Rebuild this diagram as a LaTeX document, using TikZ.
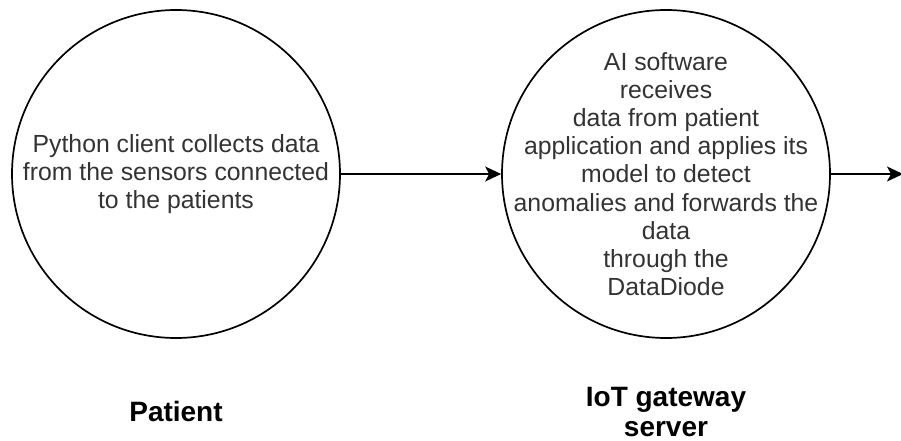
\documentclass[tikz,border=0pt]{standalone}
\usepackage{fontspec}
\setmainfont{Liberation Sans}
\usetikzlibrary{arrows.meta}
\begin{document}
\begin{tikzpicture}[x=1pt,y=1pt,
    ring/.style={draw,circle,line width=1.7pt,minimum size=328pt,inner sep=0pt},
    body/.style={align=center,text=black!80,font=\fontsize{24.8}{28.2}\selectfont},
    caption/.style={align=center,font=\fontsize{28}{30}\selectfont\bfseries},
    flow/.style={line width=1.6pt,-{Stealth[length=16pt,width=15pt,inset=4pt]}}]
    \useasboundingbox (0,0) rectangle (901,-441);
     % the two stages
     \node[ring] (patient) at (176,-174) {};
     \node[body] (patienttext) at (patient) {Python client collects data\\from the sensors connected\\to the patients};
     \node[ring] (gateway) at (666,-174) {};
     \node[body] (gatewaytext) at (gateway) {AI software\\receives\\data from patient\\application and applies its\\model to detect\\anomalies and forwards the\\data\\through the\\DataDiode};
     % captions under the circles
     \node[caption] (patientlabel) at (176,-411) {Patient};
     \node[caption] (gatewaylabel) at (666,-412) {IoT gateway\\server};
     % connectors
     \coordinate (out) at (903,-174);
     \draw[flow] (patient) -- (gateway);
     \draw[flow] (gateway) -- (out);
   \end{tikzpicture}
\end{document}
